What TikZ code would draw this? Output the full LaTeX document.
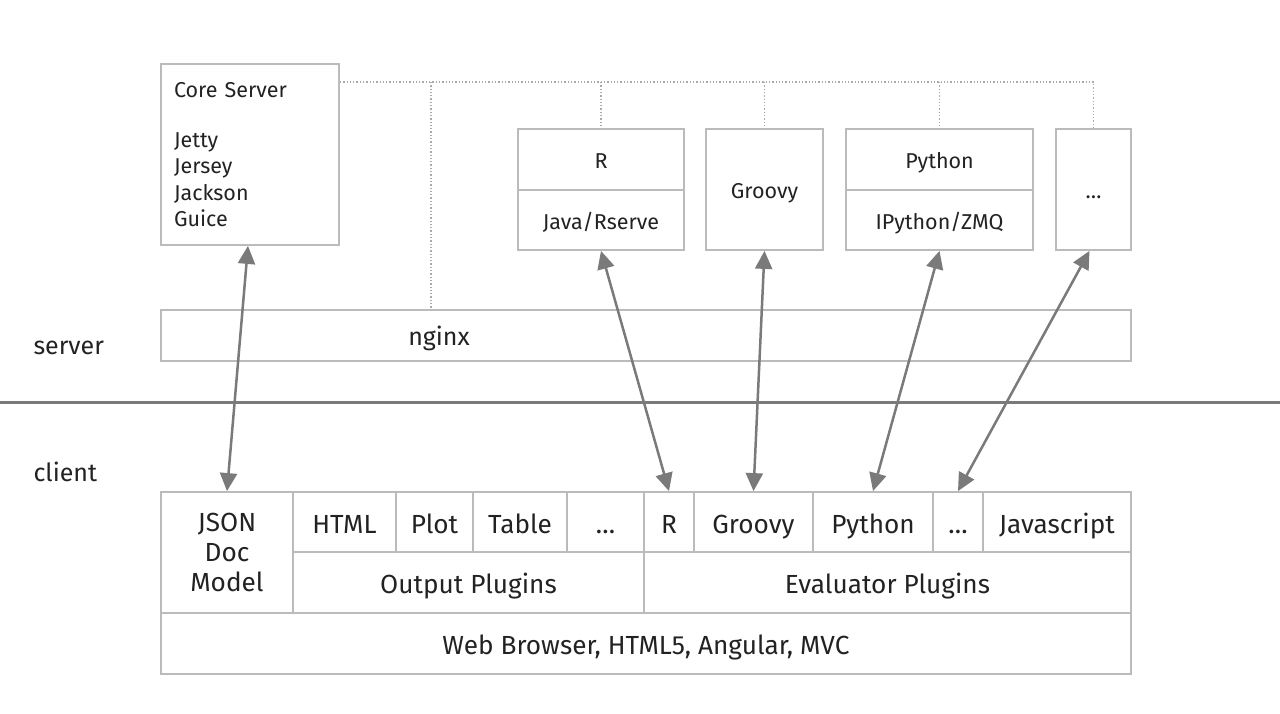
\documentclass[tikz,border=0pt]{standalone}
\usepackage{fontspec}
\setmainfont{Fira Sans}
\usetikzlibrary{arrows.meta}
\definecolor{boxgray}{HTML}{BBBBBB}
\definecolor{dotgray}{HTML}{AAAAAA}
\definecolor{arrowgray}{HTML}{7A7A7A}
\definecolor{inkblack}{HTML}{222222}
\tikzset{
  box/.style={draw=boxgray, line width=1.8pt, inner sep=0pt, text=inkblack,
    font=\fontsize{21.5}{26.5}\selectfont},
  onebox/.style={box, text height=24pt, text depth=5pt},
  tallcell/.style={box, font=\fontsize{26.2}{30}\selectfont},
  cell/.style={tallcell, text height=28pt, text depth=6pt},
  dotline/.style={draw=dotgray, line width=1.3pt, dotted},
  biarrow/.style={draw=arrowgray, line width=2.5pt,
    {Triangle[length=18pt,width=17pt]}-{Triangle[length=18pt,width=17pt]}},
  side/.style={anchor=west, text=inkblack, font=\fontsize{25}{30}\selectfont}
}
\begin{document}
\begin{tikzpicture}[x=1pt,y=-1pt]
\useasboundingbox (0,0) rectangle (1280,714);
% server side
\node[box, minimum width=178, minimum height=181, text width=152, align=left] (core) at (250,154.5)
  {Core Server\\[23.5pt]Jetty\\Jersey\\Jackson\\Guice};
\node[onebox, minimum width=166, minimum height=61] (rtop) at (601,159.5) {R};
\node[onebox, minimum width=166, minimum height=60] (rbot) at (601,220) {Java/Rserve};
\node[onebox, minimum width=117, minimum height=121] (groovy) at (764.5,189.5) {Groovy};
\node[onebox, minimum width=187, minimum height=61] (pytop) at (939.5,159.5) {Python};
\node[onebox, minimum width=187, minimum height=60] (pybot) at (939.5,220) {IPython/ZMQ};
\node[onebox, minimum width=75, minimum height=121] (more) at (1093.5,189.5) {…};
\node[box, minimum width=970, minimum height=51] (nginx) at (646,335.5) {};
\node[text=inkblack, font=\fontsize{25}{30}\selectfont] (nginxlbl) at (439,338) {nginx};
% dotted bus
\coordinate (busw) at ([yshift=-19pt]core.north east);
\coordinate (tap) at (431,82);
\draw[dotline] (busw) to (busw -| more.north) to (more.north);
\draw[dotline] (tap) to (tap |- nginx.north);
\draw[dotline] (busw -| rtop.north) to (rtop.north);
\draw[dotline] (busw -| groovy.north) to (groovy.north);
\draw[dotline] (busw -| pytop.north) to (pytop.north);
% split line
\node[side] (serverlbl) at (30,348) {server};
\node[side] (clientlbl) at (30,472) {client};
\coordinate (splitw) at (0,402);
\coordinate (splite) at (1280,402);
\draw[draw=arrowgray, line width=3pt] (splitw) to (splite);
% client side
\node[tallcell, minimum width=132, minimum height=121, align=center] (json) at (227,552.5) {JSON\\Doc\\Model};
\node[cell, minimum width=103, minimum height=60] (html) at (344.5,522) {HTML};
\node[cell, minimum width=77, minimum height=60] (plot) at (434.5,522) {Plot};
\node[cell, minimum width=94, minimum height=60] (table) at (520,522) {Table};
\node[cell, minimum width=77, minimum height=60] (odots) at (605.5,522) {…};
\node[cell, minimum width=50, minimum height=60] (er) at (669,522) {R};
\node[cell, minimum width=119, minimum height=60] (egroovy) at (753.5,522) {Groovy};
\node[cell, minimum width=120, minimum height=60] (epython) at (873,522) {Python};
\node[cell, minimum width=50, minimum height=60] (edots) at (958,522) {…};
\node[cell, minimum width=148, minimum height=60] (ejs) at (1057,522) {Javascript};
\node[cell, minimum width=351, minimum height=61] (outp) at (468.5,582.5) {Output Plugins};
\node[cell, minimum width=487, minimum height=61] (evalp) at (887.5,582.5) {Evaluator Plugins};
\node[cell, minimum width=970, minimum height=61] (web) at (646,643.5) {Web Browser, HTML5, Angular, MVC};
% connections
\draw[biarrow] ([xshift=-2pt]core.south) to (json.north);
\draw[biarrow] (rbot.south) to (er.north);
\draw[biarrow] (groovy.south) to (egroovy.north);
\draw[biarrow] (pybot.south) to (epython.north);
\draw[biarrow] ([xshift=-4pt]more.south) to (edots.north);
\end{tikzpicture}
\end{document}
